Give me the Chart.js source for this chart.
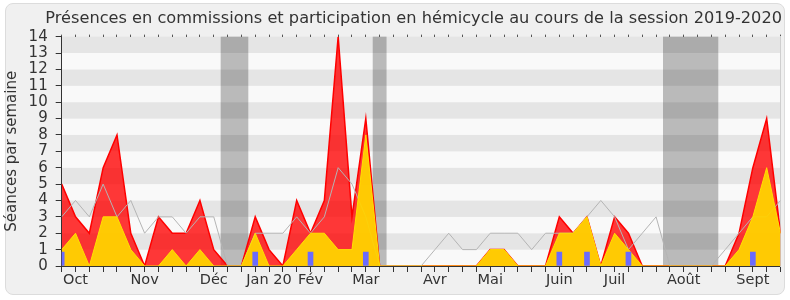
<!DOCTYPE html>
<html>
<head>
<meta charset="utf-8">
<script src="https://cdn.jsdelivr.net/npm/chart.js@4.4.1/dist/chart.umd.min.js"></script>
<style>
  body { margin: 0; background: #fff; }
  #panel { position: absolute; left: 5px; top: 3px; width: 778px; height: 290px; background: #f0f0f0; border: 1px solid #dcdcdc; border-radius: 8px; }
  #wrap { position: absolute; left: 0; top: 0; width: 790px; height: 300px; }
</style>
</head>
<body>
<div id="panel"></div>
<div id="wrap"><canvas id="chart" width="790" height="300"></canvas></div>
<script>
// semaines de la session 2019-2020 (index 0 = début octobre)
const semaines = [0,1,2,3,4,5,6,7,8,9,10,11,12,13,14,15,16,17,18,19,20,21,22,23,24,25,26,
  27,28,29,30,31,32,33,34,35,36,37,38,39,40,41,42,43,44,45,46,47,48,49,50,51,52];
const moisLabels = ['Oct', 'Nov', 'Déc', 'Jan 20', 'Fév', 'Mar', 'Avr', 'Mai', 'Juin', 'Juil', 'Août', 'Sept'];
const moisSemaines = [1, 6, 11, 15, 18, 22, 27, 31, 36, 40, 45, 50];
const vacancesDebut = [11.5, 22.5, 43.5];
const vacancesFin = [13.5, 23.5, 47.5];

const hemicycle = [5,3,2,6,8,2,0,3,2,2, 4,1,0,0,3,1,0,4,2,4, 14,3,9,0,0,0,0,0,0,0,
  0,1,1,0,0,0,3,2,3,0, 3,2,0,0,0,0,0,0,0,2, 6,9,2];
const commission = [1,2,0,3,3,1,0,0,1,0, 1,0,0,0,2,0,0,1,2,2, 1,1,8,0,0,0,0,0,0,0,
  0,1,1,0,0,0,2,2,3,0, 2,1,0,0,0,0,0,0,0,1, 3,6,2];
const mediane = [3,4,3,5,3,4,2,3,3,2, 3,3,0,0,2,2,2,3,2,3, 6,5,3,0,0,0,0,1,2,1,
  1,2,2,2,1,2,2,2,3,4, 3,1,2,3,0,0,0,0,1,2, 3,3,4];
const questions = [0.85,null,null,null,null,null,null,null,null,null,
  null,null,null,null,0.85,null,null,null,0.85,null,
  null,null,0.85,null,null,null,null,null,null,null,
  null,null,null,null,null,null,0.85,null,0.85,null,
  null,0.85,null,null,null,null,null,null,null,null,
  0.85,null,null];
const yMax = 14;

const pts = arr => arr.map((v, i) => ({ x: semaines[i], y: v }));

// bandes grises horizontales + périodes de vacances
const backdrop = {
  id: 'backdrop',
  beforeDraw(chart) {
    const { ctx, chartArea: a, scales: { x, y } } = chart;
    ctx.save();
    for (let k = 0; k < yMax; k++) {
      const top = y.getPixelForValue(k + 1);
      const bot = y.getPixelForValue(k);
      ctx.fillStyle = k % 2 ? '#e5e5e5' : '#f9f9f9';
      ctx.fillRect(a.left, top, a.right - a.left, bot - top);
    }
    ctx.fillStyle = 'rgba(0,0,0,0.25)';
    vacancesDebut.forEach((d, j) => {
      const x0 = x.getPixelForValue(d);
      const x1 = x.getPixelForValue(vacancesFin[j]);
      ctx.fillRect(x0, a.top, x1 - x0, a.bottom - a.top);
    });
    ctx.restore();
  }
};

const font = 'DejaVu Sans';

new Chart(document.getElementById('chart'), {
  data: {
    datasets: [
      {
        type: 'bar',
        data: pts(questions),
        backgroundColor: '#6b6bff',
        barThickness: 5,
        order: 0
      },
      {
        type: 'line',
        data: pts(commission),
        borderColor: '#ffe000',
        borderWidth: 1,
        backgroundColor: 'rgba(255,210,0,0.95)',
        fill: 'origin',
        pointRadius: 0,
        tension: 0,
        order: 1
      },
      {
        type: 'line',
        data: pts(mediane),
        borderColor: '#b4b4b4',
        borderWidth: 1,
        fill: false,
        pointRadius: 0,
        tension: 0,
        order: 2
      },
      {
        type: 'line',
        data: pts(hemicycle),
        borderColor: '#ff0000',
        borderWidth: 1.5,
        backgroundColor: 'rgba(255,0,0,0.78)',
        fill: 'origin',
        pointRadius: 0,
        tension: 0,
        order: 3
      }
    ]
  },
  options: {
    responsive: false,
    devicePixelRatio: 1,
    animation: false,
    layout: { padding: { left: 0, right: 8, top: 0, bottom: 0 } },
    plugins: {
      legend: { display: false },
      tooltip: { enabled: false },
      title: {
        display: true,
        align: 'end',
        text: 'Présences en commissions et participation en hémicycle au cours de la session 2019-2020',
        font: { family: font, size: 16.2, weight: 'normal' },
        color: '#333',
        padding: { top: 9, bottom: 8.2 }
      }
    },
    scales: {
      x: {
        type: 'linear',
        position: 'bottom',
        min: 0,
        max: 52,
        offset: false,
        z: 1,
        afterBuildTicks: s => { s.ticks = semaines.map(v => ({ value: v })); },
        afterFit: s => { s.height = 34; },
        ticks: {
          autoSkip: false,
          maxRotation: 0,
          padding: 0,
          color: '#333',
          font: { family: font, size: 14.5 },
          callback: v => {
            const j = moisSemaines.indexOf(v);
            return j >= 0 ? moisLabels[j] : '';
          }
        },
        grid: { offset: false, drawOnChartArea: false, tickLength: 6, color: '#333' },
        border: { color: '#333' }
      },
      xt: {
        type: 'linear',
        position: 'top',
        min: 0,
        max: 52,
        offset: false,
        afterBuildTicks: s => { s.ticks = semaines.map(v => ({ value: v })); },
        afterFit: s => { s.height = 0; },
        ticks: { display: false },
        grid: { offset: false, drawOnChartArea: false, tickLength: 2, color: '#555' },
        border: { display: false }
      },
      y: {
        min: 0,
        max: yMax,
        z: 1,
        afterFit: s => { s.width = 61.7; },
        ticks: {
          stepSize: 1,
          maxTicksLimit: 20,
          autoSkip: false,
          padding: 8,
          color: '#333',
          font: { family: font, size: 15 }
        },
        grid: { drawOnChartArea: false, tickLength: 6, color: '#333' },
        border: { color: '#333' },
        title: {
          display: true,
          text: 'Séances par semaine',
          color: '#333',
          font: { family: font, size: 15 },
          padding: { top: 3, bottom: 0 }
        }
      },
      yr: {
        type: 'linear',
        position: 'right',
        min: 0,
        max: yMax,
        afterFit: s => { s.width = 1.5; },
        ticks: { display: false },
        grid: { display: false },
        border: { color: '#cfcfcf' }
      }
    }
  },
  plugins: [backdrop]
});
</script>
</body>
</html>
